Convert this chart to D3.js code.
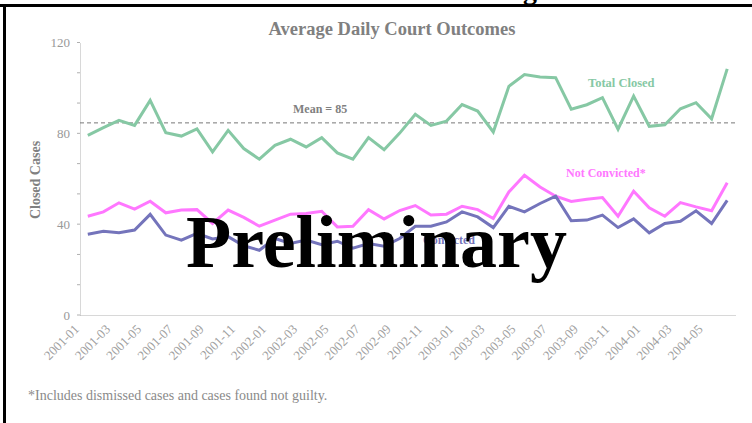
<!DOCTYPE html>
<html>
<head>
<meta charset="utf-8">
<script src="https://cdn.jsdelivr.net/npm/d3@7/dist/d3.min.js"></script>
<style>
  body { margin: 0; background: #fff; }
  svg { display: block; font-family: "Liberation Serif", "Times New Roman", serif; }
</style>
</head>
<body>
<div id="chart"></div>
<script>
// months shown on the category axis
var months = ["2001-01","2001-02","2001-03","2001-04","2001-05","2001-06","2001-07","2001-08","2001-09","2001-10","2001-11","2001-12",
  "2002-01","2002-02","2002-03","2002-04","2002-05","2002-06","2002-07","2002-08","2002-09","2002-10","2002-11","2002-12",
  "2003-01","2003-02","2003-03","2003-04","2003-05","2003-06","2003-07","2003-08","2003-09","2003-10","2003-11","2003-12",
  "2004-01","2004-02","2004-03","2004-04","2004-05","2004-06"];

var totalClosed = [79.1,82.5,85.7,83.5,94.5,80.3,78.8,82,71.8,81.3,
  73.3,68.6,74.7,77.4,74,78.1,71.4,68.6,78.1,72.8,
  80.1,88.4,83.5,85.4,92.7,89.8,80.6,100.7,105.9,104.8,
  104.5,90.6,92.6,95.7,81.8,96.4,83.1,83.8,90.8,93.5,
  86.4,108.4];

var notConvicted = [43.5,45.4,49.4,46.6,50.1,45,46.2,46.4,40.3,46.2,
  43,39.1,41.8,44.4,44.7,45.7,38.8,39.1,46.4,42.3,
  46,48.2,44,44.4,47.9,46.4,42.5,54.2,61.5,56.4,
  52.3,50,51,51.7,43.5,54.5,47.2,43.5,49.5,47.6,
  45.9,58.2];

var convicted = [35.6,36.9,36.2,37.4,44.3,35.2,33,35.9,33.5,34.5,
  30.5,28.5,33.7,31.5,33,31,32.5,29.4,31.5,30.3,
  33.7,39.1,39.1,41,45.4,43.2,38.5,47.9,45.4,49.1,
  52.3,41.5,41.8,44,38.5,42.3,36.2,40.3,41.3,45.9,
  40.3,50.5];

var meanValue = 84.6;
var yTicks = [0, 40, 80, 120];

var W = 752, H = 423;
var svg = d3.select("#chart").append("svg")
  .attr("width", W).attr("height", H);

// page frame (black rules of the document, heading cut off above)
svg.append("text")
  .attr("x", 537).attr("y", -1)
  .attr("text-anchor", "end")
  .attr("font-size", "28px").attr("font-weight", "bold")
  .attr("fill", "#000")
  .text("Processing");
svg.append("rect").attr("x", 0).attr("y", 4).attr("width", W).attr("height", 3).attr("fill", "#000");
svg.append("rect").attr("x", 3).attr("y", 4).attr("width", 3).attr("height", H).attr("fill", "#000");

var x = d3.scaleBand().domain(months).range([80, 735]).padding(0);
var y = d3.scaleLinear().domain([0, 120]).range([315, 42.5]);
var cx = function(d, i) { return x(months[i]) + x.bandwidth() / 2; };

// title
svg.append("text")
  .attr("x", 392).attr("y", 35)
  .attr("text-anchor", "middle")
  .attr("font-size", "18.5px").attr("font-weight", "bold")
  .attr("fill", "#808080")
  .text("Average Daily Court Outcomes");

// y axis
var yAxis = svg.append("g")
  .attr("transform", "translate(80,0)")
  .call(d3.axisLeft(y).tickValues(yTicks).tickSize(0).tickPadding(10));
yAxis.select(".domain").attr("stroke", "#b0b0b0").attr("stroke-dasharray", "1,1");
yAxis.selectAll("text").attr("fill", "#999").attr("font-size", "13px")
  .attr("font-family", "Liberation Serif, Times New Roman, serif");
// minor marks
yAxis.selectAll(".minor")
  .data(d3.range(0, 121, 40 / 3))
  .enter().append("line")
  .attr("x1", -3).attr("x2", 0)
  .attr("y1", function(d) { return y(d); })
  .attr("y2", function(d) { return y(d); })
  .attr("stroke", "#b0b0b0");

svg.append("text")
  .attr("transform", "translate(40,180) rotate(-90)")
  .attr("text-anchor", "middle")
  .attr("font-size", "14px").attr("font-weight", "bold")
  .attr("fill", "#808080")
  .text("Closed Cases");

// x axis
var xAxis = svg.append("g")
  .attr("transform", "translate(0,315)")
  .call(d3.axisBottom(x).tickSize(0).tickFormat(""));
xAxis.select(".domain").attr("stroke", "#b0b0b0").attr("stroke-dasharray", "1,1");

svg.append("g").selectAll("text")
  .data(months.filter(function(d, i) { return i % 2 == 0; }))
  .enter().append("text")
  .attr("transform", function(d) {
    return "translate(" + (x(d) + x.bandwidth() / 2 - 8) + ",330) rotate(-45)";
  })
  .attr("text-anchor", "end")
  .attr("font-size", "13px")
  .attr("fill", "#a0a0a0")
  .text(function(d) { return d; });

// mean line
svg.append("line")
  .attr("x1", 80).attr("x2", 735)
  .attr("y1", y(meanValue)).attr("y2", y(meanValue))
  .attr("stroke", "#777").attr("stroke-dasharray", "4,3");
svg.append("text")
  .attr("x", 293).attr("y", 113)
  .attr("font-size", "12px").attr("font-weight", "bold")
  .attr("fill", "#808080")
  .text("Mean = 85");

// series lines
var line = d3.line().x(cx).y(function(d) { return y(d); });
var series = [
  { values: totalClosed, color: "#86c8a4" },
  { values: notConvicted, color: "#ff77ff" },
  { values: convicted, color: "#7474bb" }
];
svg.selectAll(".series")
  .data(series)
  .enter().append("path")
  .attr("class", "series")
  .attr("d", function(d) { return line(d.values); })
  .attr("fill", "none")
  .attr("stroke", function(d) { return d.color; })
  .attr("stroke-width", 3)
  .attr("stroke-linejoin", "miter");

// series labels
svg.append("text").attr("x", 588).attr("y", 87)
  .attr("font-size", "12.5px").attr("font-weight", "bold")
  .attr("fill", "#86c8a4").text("Total Closed");
svg.append("text").attr("x", 566).attr("y", 177)
  .attr("font-size", "12px").attr("font-weight", "bold")
  .attr("fill", "#ff77ff").text("Not Convicted*");
svg.append("text").attr("x", 423).attr("y", 244)
  .attr("font-size", "12px").attr("font-weight", "bold")
  .attr("fill", "#7474bb").text("Convicted");

// footnote
svg.append("text")
  .attr("x", 28).attr("y", 400)
  .attr("font-size", "14px")
  .attr("fill", "#8a8a8a")
  .text("*Includes dismissed cases and cases found not guilty.");

// watermark
svg.append("text")
  .attr("x", 186).attr("y", 267)
  .attr("font-size", "74px").attr("font-weight", "bold")
  .attr("fill", "#000")
  .text("Preliminary");
</script>
</body>
</html>
